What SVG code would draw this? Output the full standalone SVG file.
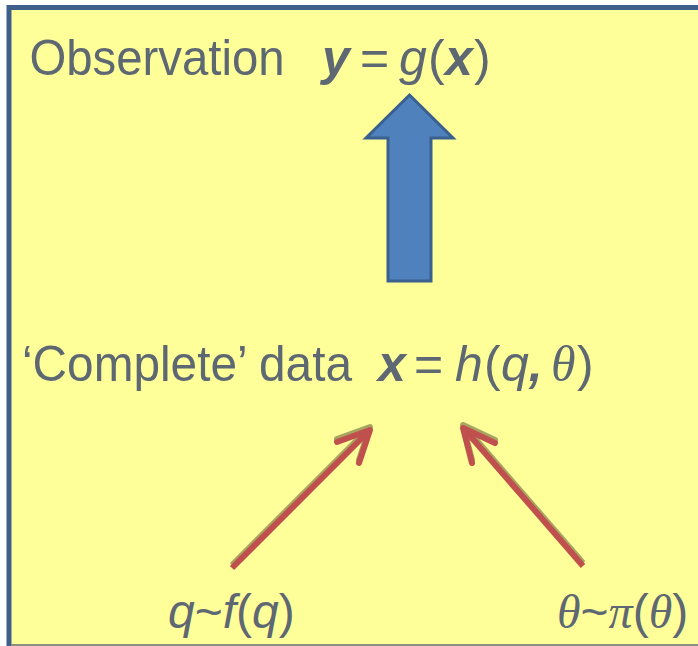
<svg xmlns="http://www.w3.org/2000/svg" width="698" height="646" viewBox="0 0 698 646">
  <style>
    .t { font-family: "Liberation Sans", Arial, sans-serif; font-size: 50px; fill: #5E6873; }
    .s { font-size: 48px; }
    .i { font-style: italic; }
    .bi { font-style: italic; font-weight: bold; }
    .g { font-family: "Liberation Serif", "Times New Roman", serif; font-style: italic; }
    .red { fill: none; stroke: #C0504D; stroke-width: 6; stroke-linejoin: round; }
    .shadow { fill: none; stroke: #A8A462; stroke-width: 6; stroke-linejoin: round; }
    .cap-round { stroke-linecap: round; }
  </style>
  <g id="frame">
    <rect x="0" y="0" width="698" height="646" fill="#FFFFFF"/>
    <rect x="9" y="7.5" width="720" height="660" fill="#FFFF99" stroke="#3E5F8A" stroke-width="5"/>
    <line x1="11" y1="645" x2="698" y2="645" stroke="#8C9080" stroke-width="2"/>
  </g>
  <g id="node-observation">
    <text class="t" x="29.5" y="75" textLength="255" lengthAdjust="spacingAndGlyphs">Observation</text>
    <text class="t" y="75"><tspan class="bi" x="322">y</tspan><tspan x="360">=</tspan><tspan class="i" x="399">g</tspan><tspan x="428">(</tspan><tspan class="bi" x="445">x</tspan><tspan x="474">)</tspan></text>
  </g>
  <g id="node-complete">
    <text class="t" x="22" y="381" textLength="330" lengthAdjust="spacingAndGlyphs">‘Complete’ data</text>
    <text class="t" y="381"><tspan class="bi" x="378">x</tspan><tspan x="414">=</tspan><tspan class="i" x="455">h</tspan><tspan x="484">(</tspan><tspan class="i" x="501">q</tspan><tspan class="bi">,</tspan><tspan class="g" x="551">θ</tspan><tspan x="577">)</tspan></text>
  </g>
  <g id="node-q">
    <text class="t s" y="628"><tspan class="i" x="168">q</tspan><tspan>~</tspan><tspan class="i">f</tspan><tspan>(</tspan><tspan class="i">q</tspan><tspan>)</tspan></text>
  </g>
  <g id="node-theta">
    <text class="t s" y="628"><tspan class="g" x="557">θ</tspan><tspan>~</tspan><tspan class="g">π</tspan><tspan>(</tspan><tspan class="g">θ</tspan><tspan>)</tspan></text>
  </g>
  <g id="connectors">
    <polygon id="arrow-up" points="409.5,95 453,138 431,138 431,281 388,281 388,138 366,138" fill="#4F81BD" stroke="#3A6090" stroke-width="3" stroke-linejoin="miter"/>
    <g id="arrow-q">
      <g transform="translate(0,-3)">
        <line class="shadow" x1="232" y1="568" x2="368" y2="432"/>
        <polyline class="shadow cap-round" points="337,442 370,430 359,463"/>
      </g>
      <line class="red" x1="232" y1="568" x2="368" y2="432"/>
      <polyline class="red cap-round" points="337,442 370,430 359,463"/>
    </g>
    <g id="arrow-theta">
      <g transform="translate(0,-3)">
        <line class="shadow" x1="583" y1="566" x2="465" y2="430"/>
        <polyline class="shadow cap-round" points="495,443 463,428 472,463"/>
      </g>
      <line class="red" x1="583" y1="566" x2="465" y2="430"/>
      <polyline class="red cap-round" points="495,443 463,428 472,463"/>
    </g>
  </g>
</svg>
